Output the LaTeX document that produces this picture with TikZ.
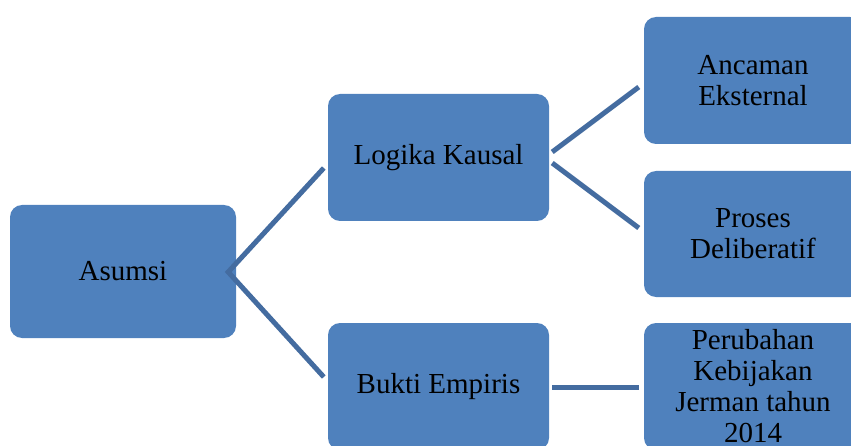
\documentclass[tikz,border=0pt]{standalone}
\usepackage{fontspec}
\setmainfont{Liberation Serif}
\usetikzlibrary{calc}
\definecolor{boxblue}{RGB}{79,129,189}
\definecolor{lineblue}{RGB}{68,108,160}
\tikzset{
  box/.style={draw=none, fill=boxblue, rounded corners=12pt, inner sep=0pt, align=center,
    font=\fontsize{29}{31}\selectfont, text=black},
  link/.style={draw=lineblue, line width=5pt}
}
\begin{document}
\begin{tikzpicture}[x=1pt,y=-1pt]
\useasboundingbox (0,0) rectangle (851,446);
\clip (0,0) rectangle (851,446);
\node[box, minimum width=226pt, minimum height=133pt] (asumsi) at (123,271.5) {Asumsi};
\node[box, minimum width=221pt, minimum height=127pt] (logika) at (438.5,157.5) {Logika Kausal};
\node[box, minimum width=221pt, minimum height=127pt] (bukti) at (438.5,386.5) {Bukti Empiris};
\node[box, minimum width=218pt, minimum height=127pt] (ancaman) at (753,80.5) {Ancaman\\Eksternal};
\node[box, minimum width=218pt, minimum height=126pt] (proses) at (753,234) {Proses\\Deliberatif};
\node[box, minimum width=218pt, minimum height=127pt] (perubahan) at (753,386.5) {Perubahan\\Kebijakan\\Jerman tahun\\2014};
\draw[link] ($(logika.west)+(-4,10.5)$) -- ($(asumsi.east)+(-8,0.5)$) -- ($(bukti.west)+(-4,-9.5)$);
\draw[link] ($(logika.east)+(3,-5.5)$) -- ($(ancaman.west)+(-5,6.5)$);
\draw[link] ($(logika.east)+(3,5.5)$) -- ($(proses.west)+(-5,-6)$);
\draw[link] ($(bukti.east)+(3,0.5)$) -- ($(perubahan.west)+(-5,0.5)$);
\end{tikzpicture}
\end{document}
